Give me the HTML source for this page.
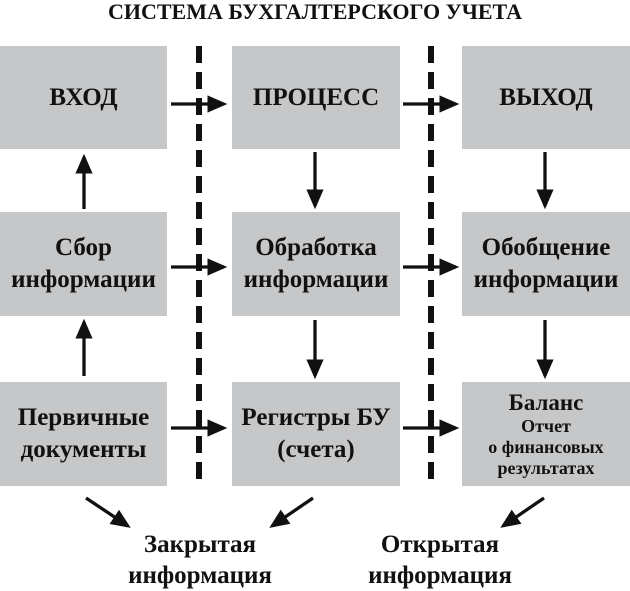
<!DOCTYPE html>
<html><head><meta charset="utf-8"><style>
body{margin:0;width:630px;height:591px;background:#fff;overflow:hidden;position:relative;font-family:"Liberation Serif",serif;font-weight:bold;color:#111}
.b{position:absolute;background:#c6c7c9;display:flex;flex-direction:column;align-items:center;justify-content:center;text-align:center;font-size:25px;line-height:32px}
.t{position:absolute;text-align:center;font-size:25px;line-height:31px}
</style></head><body>
<div class="t" style="left:0;width:630px;top:-1px;font-size:22px;line-height:26px">СИСТЕМА БУХГАЛТЕРСКОГО УЧЕТА</div>
<div class="b" style="left:0;top:46px;width:167px;height:103px">ВХОД</div>
<div class="b" style="left:232px;top:46px;width:168px;height:103px">ПРОЦЕСС</div>
<div class="b" style="left:462px;top:46px;width:168px;height:103px">ВЫХОД</div>
<div class="b" style="left:0;top:212px;width:167px;height:104px">Сбор<br>информации</div>
<div class="b" style="left:232px;top:212px;width:168px;height:104px">Обработка<br>информации</div>
<div class="b" style="left:462px;top:212px;width:168px;height:104px">Обобщение<br>информации</div>
<div class="b" style="left:0;top:382px;width:167px;height:104px">Первичные<br>документы</div>
<div class="b" style="left:232px;top:382px;width:168px;height:104px">Регистры БУ<br>(счета)</div>
<div class="b" style="left:462px;top:382px;width:168px;height:104px;line-height:21px"><span style="font-size:23px;line-height:26px">Баланс</span><span style="font-size:18px">Отчет<br>о финансовых<br>результатах</span></div>
<div class="t" style="left:110px;width:180px;top:529px">Закрытая<br>информация</div>
<div class="t" style="left:350px;width:180px;top:529px">Открытая<br>информация</div>
<svg width="630" height="591" style="position:absolute;left:0;top:0">
<defs><marker id="a" markerWidth="6" markerHeight="6" refX="5" refY="3" orient="auto" markerUnits="strokeWidth"><path d="M0,0.4 L6,3 L0,5.6 Z" fill="#111"/></marker></defs>
<g stroke="#111" stroke-width="6" stroke-dasharray="17 9"><line x1="199" y1="46" x2="199" y2="486"/><line x1="431" y1="46" x2="431" y2="486"/></g>
<g stroke="#111" stroke-width="3.3" marker-end="url(#a)">
<line x1="171" y1="104" x2="224" y2="104"/><line x1="403" y1="104" x2="456" y2="104"/>
<line x1="171" y1="267" x2="224" y2="267"/><line x1="403" y1="267" x2="456" y2="267"/>
<line x1="171" y1="428" x2="224" y2="428"/><line x1="403" y1="428" x2="456" y2="428"/>
<line x1="84" y1="209" x2="84" y2="157"/><line x1="84" y1="376" x2="84" y2="322"/>
<line x1="315" y1="152" x2="315" y2="206"/><line x1="315" y1="320" x2="315" y2="376"/>
<line x1="545" y1="152" x2="545" y2="206"/><line x1="545" y1="320" x2="545" y2="376"/>
<line x1="86" y1="498" x2="128" y2="526"/><line x1="313" y1="498" x2="272" y2="526"/><line x1="544" y1="498" x2="503" y2="526"/>
</g></svg>
</body></html>
